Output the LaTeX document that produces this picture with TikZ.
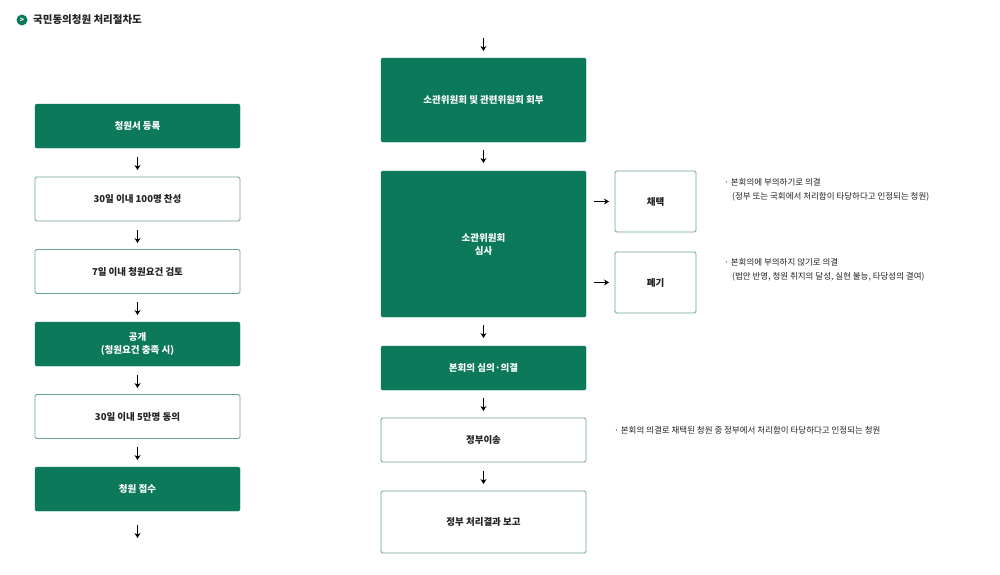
\documentclass[tikz,border=0pt]{standalone}
\usepackage{fontspec}
\setmainfont{Noto Sans CJK KR}
\usetikzlibrary{arrows.meta}
\definecolor{grn}{HTML}{0C7A5A}
\definecolor{bdr}{HTML}{6FA391}
\definecolor{txt}{HTML}{222222}
\begin{document}
\begin{tikzpicture}[x=1pt,y=-1pt,
  gbox/.style={fill=grn,draw=grn,rounded corners=1.5pt,text=white,font=\bfseries\fontsize{9.5}{13}\selectfont,align=center,inner sep=0pt},
  wbox/.style={fill=white,draw=bdr,line width=0.8pt,rounded corners=1.5pt,text=txt,font=\bfseries\fontsize{9.5}{13}\selectfont,align=center,inner sep=0pt},
  arr/.style={-{Stealth[length=5pt,width=6pt]},line width=1.3pt,black},
  note/.style={anchor=west,text=txt,font=\fontsize{8.5}{11}\selectfont,inner sep=0pt}]
\useasboundingbox (0,0) rectangle (1000,574);
% title
\node[circle,fill=grn,minimum size=11pt,inner sep=0pt] (ic) at (22,20) {};
\node[text=white,font=\bfseries\fontsize{7}{7}\selectfont,inner sep=0pt] at (ic) {>};
\node[anchor=west,inner sep=0pt,font=\bfseries\fontsize{10.5}{13}\selectfont,text=txt] (title) at (33,20) {국민동의청원 처리절차도};
% left column
\node[gbox,minimum width=205pt,minimum height=44pt] (l1) at (137.5,126) {청원서 등록};
\node[wbox,minimum width=205pt,minimum height=44pt] (l2) at (137.5,199) {30일 이내 100명 찬성};
\node[wbox,minimum width=205pt,minimum height=44pt] (l3) at (137.5,271.5) {7일 이내 청원요건 검토};
\node[gbox,minimum width=205pt,minimum height=44pt] (l4) at (137.5,344) {공개\\(청원요건 충족 시)};
\node[wbox,minimum width=205pt,minimum height=44pt] (l5) at (137.5,416.5) {30일 이내 5만명 동의};
\node[gbox,minimum width=205pt,minimum height=44pt] (l6) at (137.5,489) {청원 접수};
\foreach \y in {157,230,302,375,447,525}{\draw[arr] (137.5,\y) -- (137.5,\y+13);}
% right column
\node[gbox,minimum width=205pt,minimum height=84pt] (r1) at (483.5,100) {소관위원회 및 관련위원회 회부};
\node[gbox,minimum width=205pt,minimum height=146pt] (r2) at (483.5,244) {소관위원회\\심사};
\node[gbox,minimum width=205pt,minimum height=44pt] (r3) at (483.5,368) {본회의 심의·의결};
\node[wbox,minimum width=205pt,minimum height=44pt] (r4) at (483.5,440) {정부이송};
\node[wbox,minimum width=205pt,minimum height=62pt] (r5) at (483.5,522) {정부 처리결과 보고};
\foreach \y in {38,150,325,398,471}{\draw[arr] (483.5,\y) -- (483.5,\y+13);}
\node[wbox,minimum width=81pt,minimum height=61pt] (s1) at (655.5,201.5) {채택};
\node[wbox,minimum width=81pt,minimum height=61pt] (s2) at (655.5,282.5) {폐기};
\draw[arr] (594,201.5) -- (609,201.5);
\draw[arr] (594,282.5) -- (609,282.5);
% notes
\node[note] (n1) at (724,182) {· 본회의에 부의하기로 의결};
\node[note] (n2) at (732,197) {(정부 또는 국회에서 처리함이 타당하다고 인정되는 청원)};
\node[note] (n3) at (724,262) {· 본회의에 부의하지 않기로 의결};
\node[note] (n4) at (732,277) {(법안 반영, 청원 취지의 달성, 실현 불능, 타당성의 결여)};
\node[note] (n5) at (614,430) {· 본회의 의결로 채택된 청원 중 정부에서 처리함이 타당하다고 인정되는 청원};
\end{tikzpicture}
\end{document}
